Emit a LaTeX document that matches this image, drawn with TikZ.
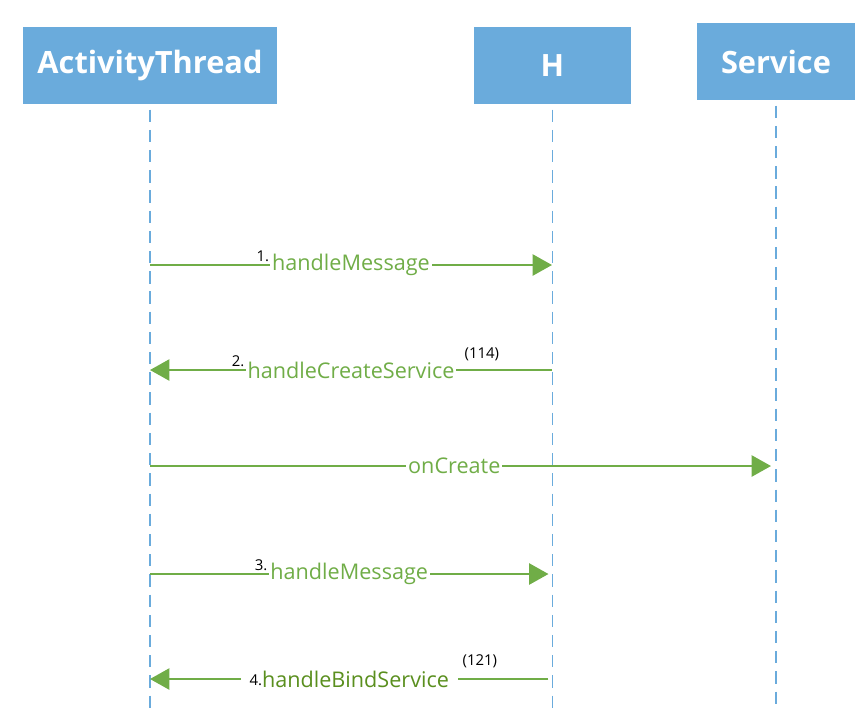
\documentclass[tikz,border=0pt]{standalone}
\usepackage{fontspec}
\setmainfont{Open Sans}
\usetikzlibrary{arrows.meta}

\definecolor{boxblue}{HTML}{6AABDC}
\definecolor{msggreen}{HTML}{70AD47}
\definecolor{darkgreen}{HTML}{5A8F1E}

\tikzset{
    actor/.style={fill=boxblue, text=white, inner sep=0pt, minimum height=1.54cm,
        font=\bfseries\fontsize{17.5}{17.5}\selectfont},
    lifeline/.style={boxblue, line width=0.8pt, dash pattern=on 7pt off 4.5pt},
    msg/.style={msggreen, line width=1.2pt, -{Triangle[length=11pt,width=12pt]}},
    msglabel/.style={fill=white, text=msggreen, inner sep=1pt,
        font=\fontsize{12.3}{13}\selectfont},
    num/.style={inner sep=0pt, font=\fontsize{8.5}{8.5}\selectfont}
}

\begin{document}
\begin{tikzpicture}[x=0.02cm, y=-0.02cm]

    \useasboundingbox (0,0) rectangle (862,711);

    % participants
    \node[actor, minimum width=5.08cm] (at) at (150,65.5) {ActivityThread};
    \node[actor, minimum width=3.14cm] (h) at (552.5,65.5) {H};
    \node[actor, minimum width=3.16cm] (svc) at (776,61.5) {Service};

    % lifelines
    \coordinate (bottom) at (0,711);
    \foreach \p in {at,h,svc} {
        \draw[lifeline] ([yshift=-3pt]\p.south) -- (\p.south |- bottom);};

    % message rows
    \foreach \y [count=\i] in {265,370,466,574,679} {
        \coordinate (at\i) at (150,\y);
        \coordinate (h\i) at (552,\y);
        \coordinate (svc\i) at (771,\y);};

    % messages
    \draw[msg] (at1) -- (h1) node[msglabel, pos=0.5] (lbl1) {handleMessage};
    \node[num, anchor=east] (n1) at ([yshift=5pt]lbl1.west) {1.};

    \draw[msg] (h2) -- (at2) node[msglabel, pos=0.5] (lbl2) {handleCreateService};
    \node[num, anchor=east] (n2) at ([yshift=5pt]lbl2.west) {2.};
    \node[num, anchor=west] (r2) at ([xshift=4pt,yshift=9pt]lbl2.east) {(114)};

    \draw[msg] (at3) -- (svc3) node[msglabel, pos=0.49] (lbl3) {onCreate};

    \draw[msg] (at4) -- ([xshift=-2pt]h4) node[msglabel, pos=0.5] (lbl4) {handleMessage};
    \node[num, anchor=east] (n4) at ([yshift=5pt]lbl4.west) {3.};

    \draw[msg] ([xshift=-2pt]h5) -- (at5) node[msglabel, pos=0.5, inner xsep=5pt] (lbl5)
        {\raisebox{1pt}{\textcolor{black}{\fontsize{8.5}{8.5}\selectfont 4.}}\textcolor{darkgreen}{handleBindService}};
    \node[num, anchor=west] (r5) at ([xshift=2pt,yshift=10pt]lbl5.east) {(121)};

\end{tikzpicture}
\end{document}
